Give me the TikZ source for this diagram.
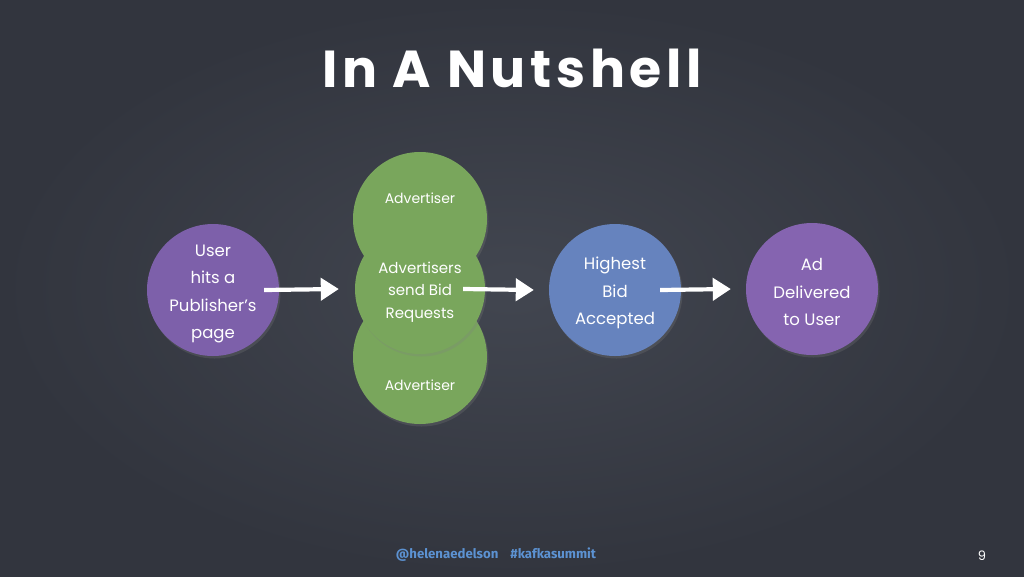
\documentclass[tikz,border=0pt]{standalone}
\usepackage{fontspec}
\setmainfont{Poppins}
\newfontfamily\footfont{Fira Sans}
\newfontfamily\titlefont[LetterSpace=9]{Poppins}
\usetikzlibrary{arrows.meta,shadows}
\definecolor{bgin}{RGB}{66,70,80}
\definecolor{bgout}{RGB}{50,53,62}
\definecolor{purpleA}{RGB}{125,96,170}
\definecolor{purpleB}{RGB}{133,100,176}
\definecolor{greenA}{RGB}{121,166,92}
\definecolor{blueA}{RGB}{102,131,190}
\definecolor{footblue}{RGB}{92,146,210}
\tikzset{
  bubble/.style={circle, minimum size=132pt, inner sep=0pt,
    drop shadow={opacity=0.25, shadow xshift=1.5pt, shadow yshift=-2.5pt}},
  bigtext/.style={text=white, align=center, font=\fontsize{16.5}{27.5}\selectfont},
  midtext/.style={text=white, align=center, font=\fontsize{15}{22.5}\selectfont},
  smalltext/.style={text=white, align=center, font=\fontsize{14}{20}\selectfont},
  chalkarrow/.style={draw=white, line width=4.2pt, -{Triangle[length=18pt,width=22pt]}},
}
\begin{document}
\begin{tikzpicture}[x=1pt,y=-1pt]
\useasboundingbox (0,0) rectangle (1024,576);
\shade[inner color=bgin, outer color=bgout] (0,0) rectangle (1024,576);

\node[text=white, font=\titlefont\fontsize{52}{56}\selectfont\bfseries] (title) at (512,68) {In A Nutshell};

\node[bubble, fill=purpleA] (user) at (213,290) {};
\node[bigtext] (userlbl) at ([yshift=-4pt]user.center) {User\\hits a\\Publisher's\\page};

\node[bubble, fill=greenA, minimum size=134pt] (advtop) at (420,219) {};
\node[smalltext] (advtoplbl) at (420,198) {Advertiser};
\node[bubble, fill=greenA, minimum size=134pt] (advbot) at (420,357) {};
\node[smalltext] (advbotlbl) at (420,385) {Advertiser};
\node[bubble, fill=greenA, minimum size=130pt] (adv) at (420,289) {};
\node[midtext] (advlbl) at ([yshift=-3pt]adv.center) {Advertisers\\send Bid\\Requests};

\node[bubble, fill=blueA] (bid) at (615,290) {};
\node[bigtext] (bidlbl) at ([yshift=-3pt]bid.center) {Highest\\Bid\\Accepted};

\node[bubble, fill=purpleB] (ad) at (812,289) {};
\node[bigtext] (adlbl) at ([yshift=-3pt]ad.center) {Ad\\Delivered\\to User};

\draw[chalkarrow] ([xshift=-15pt]user.east) -- ([xshift=-16pt]adv.west);
\draw[chalkarrow] ([xshift=-22pt]adv.east) -- ([xshift=-15pt]bid.west);
\draw[chalkarrow] ([xshift=-21pt]bid.east) -- ([xshift=-15pt]ad.west);

\node[text=footblue, font=\footfont\fontsize{13.2}{16}\selectfont\bfseries] (foot) at (496,555) {@helenaedelson\hspace{12pt}\#kafkasummit};
\node[text=white, font=\fontsize{13}{15}\selectfont] (page) at (982,556) {9};
\end{tikzpicture}
\end{document}
